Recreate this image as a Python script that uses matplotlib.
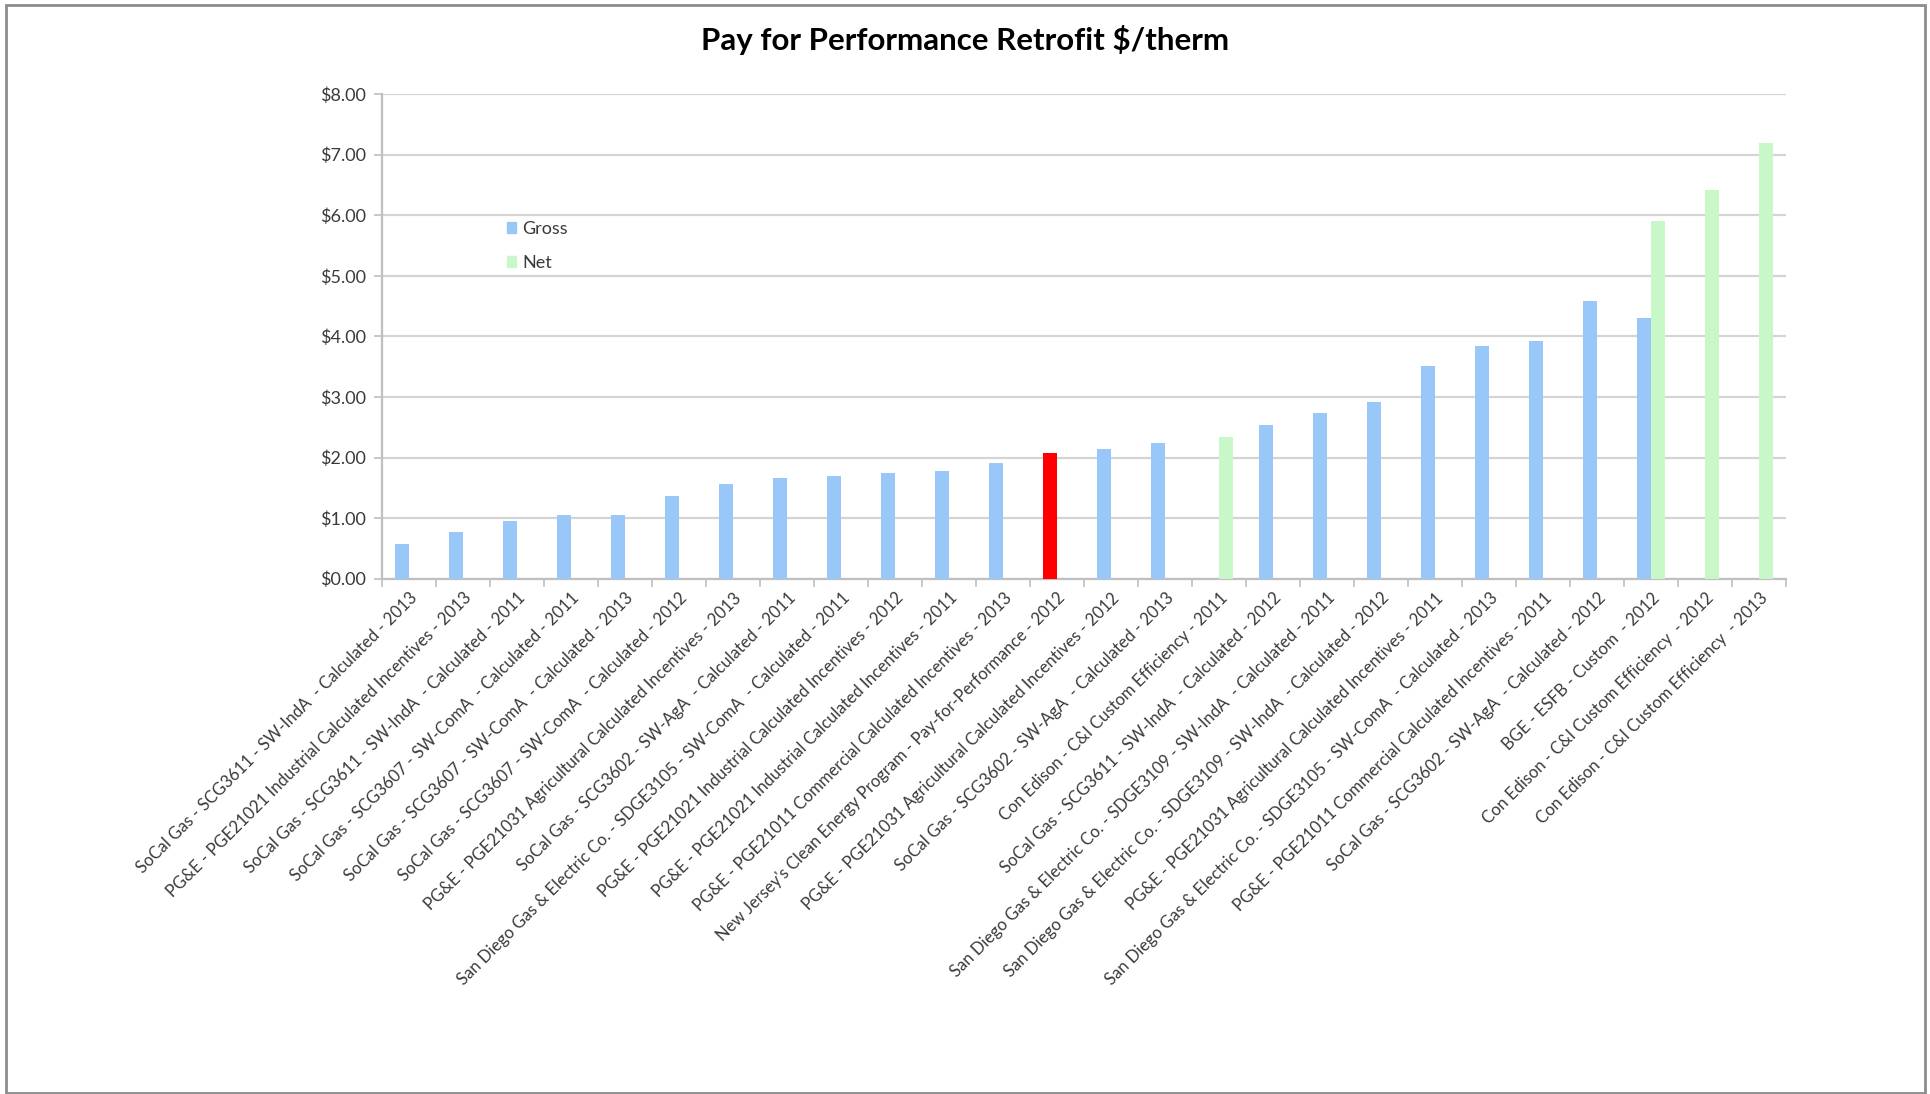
import numpy as np
import matplotlib.pyplot as plt
from matplotlib.patches import Patch, Rectangle

plt.rcParams['font.family'] = ['Lato', 'DejaVu Sans']

categories = [
    "SoCal Gas - SCG3611 - SW-IndA  - Calculated - 2013",
    "PG&E - PGE21021 Industrial Calculated Incentives - 2013",
    "SoCal Gas - SCG3611 - SW-IndA  - Calculated - 2011",
    "SoCal Gas - SCG3607 - SW-ComA  - Calculated - 2011",
    "SoCal Gas - SCG3607 - SW-ComA  - Calculated - 2013",
    "SoCal Gas - SCG3607 - SW-ComA  - Calculated - 2012",
    "PG&E - PGE21031 Agricultural Calculated Incentives - 2013",
    "SoCal Gas - SCG3602 - SW-AgA  - Calculated - 2011",
    "San Diego Gas & Electric Co. - SDGE3105 - SW-ComA  - Calculated - 2011",
    "PG&E - PGE21021 Industrial Calculated Incentives - 2012",
    "PG&E - PGE21021 Industrial Calculated Incentives - 2011",
    "PG&E - PGE21011 Commercial Calculated Incentives - 2013",
    "New Jersey's Clean Energy Program - Pay-for-Performance - 2012",
    "PG&E - PGE21031 Agricultural Calculated Incentives - 2012",
    "SoCal Gas - SCG3602 - SW-AgA  - Calculated - 2013",
    "Con Edison - C&I Custom Efficiency - 2011",
    "SoCal Gas - SCG3611 - SW-IndA  - Calculated - 2012",
    "San Diego Gas & Electric Co. - SDGE3109 - SW-IndA  - Calculated - 2011",
    "San Diego Gas & Electric Co. - SDGE3109 - SW-IndA  - Calculated - 2012",
    "PG&E - PGE21031 Agricultural Calculated Incentives - 2011",
    "San Diego Gas & Electric Co. - SDGE3105 - SW-ComA  - Calculated - 2013",
    "PG&E - PGE21011 Commercial Calculated Incentives - 2011",
    "SoCal Gas - SCG3602 - SW-AgA  - Calculated - 2012",
    "BGE - ESFB - Custom  - 2012",
    "Con Edison - C&I Custom Efficiency  - 2012",
    "Con Edison - C&I Custom Efficiency  - 2013",
]

nan = np.nan
gross = [0.57, 0.77, 0.95, 1.05, 1.06, 1.37, 1.56, 1.66, 1.69, 1.74, 1.78, 1.91,
         2.08, 2.14, 2.24, nan, 2.53, 2.74, 2.92, 3.51, 3.84, 3.92, 4.59, 4.31, nan, nan]
net = [nan] * 15 + [2.34] + [nan] * 7 + [5.90, 6.41, 7.19]
highlight = "New Jersey's Clean Energy Program - Pay-for-Performance - 2012"

blue = '#99C7F7'
green = '#C8F8C8'
red = '#FF0000'

fig = plt.figure(figsize=(19.31, 10.94), dpi=100)
ax = fig.add_axes([0.198, 0.471, 0.727, 0.443])

x = np.arange(len(categories))
w = 0.26
gross_colors = [red if c == highlight else blue for c in categories]
ax.bar(x - w / 2, gross, w, color=gross_colors, zorder=3)
ax.bar(x + w / 2, net, w, color=green, zorder=3)

ax.set_xlim(-0.5, len(categories) - 0.5)
ax.set_ylim(0, 8)
ax.set_yticks(np.arange(0, 9, 1))
ax.set_yticklabels(['${:.2f}'.format(v) for v in range(9)], fontsize=13, color='#3A3A3A')
ax.yaxis.grid(True, color='#D4D4D4', linewidth=1.6, zorder=0)

ax.set_xticks(x)
ax.set_xticklabels(categories, rotation=45, ha='right', rotation_mode='anchor',
                   fontsize=12, color='#3A3A3A')
ax.tick_params(axis='x', length=0, pad=8)
ax.set_xticks(np.arange(-0.5, len(categories)), minor=True)
ax.tick_params(axis='x', which='minor', length=6, color='#BFBFBF', width=1.2)
ax.tick_params(axis='y', length=6, color='#BFBFBF', width=1.2, pad=6)

for side in ['top', 'right']:
    ax.spines[side].set_visible(False)
for side in ['left', 'bottom']:
    ax.spines[side].set_color('#BFBFBF')
    ax.spines[side].set_linewidth(1.6)

handles = [Patch(color=blue, label='Gross'), Patch(color=green, label='Net')]
ax.legend(handles=handles, loc='upper left', bbox_to_anchor=(0.077, 0.772),
          frameon=False, fontsize=13, handlelength=0.5, handleheight=0.5,
          handletextpad=0.35, labelspacing=1.0, labelcolor='#3A3A3A')

fig.text(0.500, 0.963, 'Pay for Performance Retrofit $/therm', ha='center', va='center',
         fontsize=22.5, fontweight='bold', color='#000000')

fig.patches.append(Rectangle((0.003, 0.001), 0.994, 0.994, transform=fig.transFigure,
                             fill=False, edgecolor='#8C8C8C', linewidth=2))

fig.savefig('out.png', dpi=100)
